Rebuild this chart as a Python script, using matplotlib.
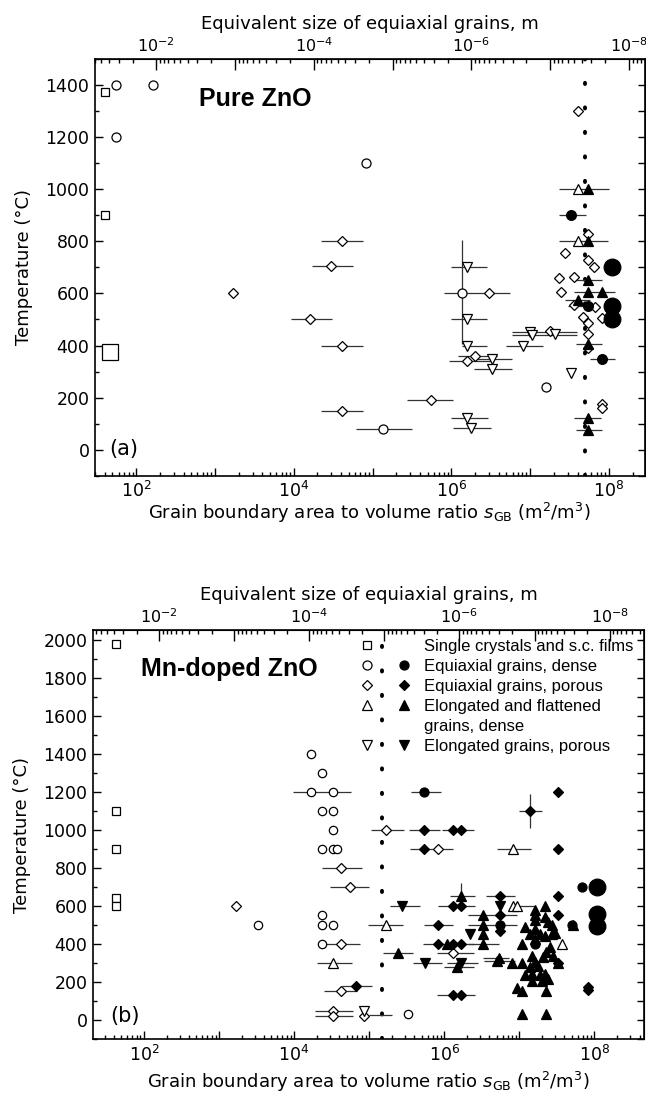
import numpy as np
import matplotlib
matplotlib.use("Agg")
import matplotlib.pyplot as plt
from matplotlib.ticker import FixedLocator, MultipleLocator, FuncFormatter, NullFormatter
from matplotlib.lines import Line2D
from matplotlib.legend_handler import HandlerTuple

plt.rcParams['font.family'] = ['DejaVu Sans']
plt.rcParams['mathtext.fontset'] = 'dejavusans'
plt.rcParams['mathtext.default'] = 'regular'

# ---------------- panel (a): pure ZnO ----------------
a_sq_s = [40, 40]
a_sq_T = [1375, 900]
a_bigsq_s = [47]
a_bigsq_T = [375]
a_circ_s = [56, 56, 164, 8.3e4, 1.35e5, 1.36e6, 1.6e7]
a_circ_T = [1400, 1200, 1400, 1100, 80, 600, 240]
a_dot_s = [3.3e7, 5.4e7, 8.3e7]
a_dot_T = [900, 550, 350]
a_bigdot_s = [1.1e8, 1.1e8, 1.1e8]
a_bigdot_T = [700, 550, 500]
a_dia_s = [1.7e3, 1.6e4, 4.1e4, 3.0e4, 4.1e4, 4.1e4, 5.5e5, 3.0e6, 2.0e6, 1.6e6,
           1.8e7, 2.75e7, 5.4e7, 5.4e7, 6.5e7, 2.3e7, 3.6e7, 2.5e7, 3.6e7, 6.6e7,
           4.7e7, 5.5e7, 8.1e7, 5.4e7, 5.4e7, 8.3e7, 8.3e7, 4.0e7]
a_dia_T = [600, 500, 800, 705, 400, 150, 190, 600, 360, 340,
           455, 755, 830, 730, 700, 660, 665, 605, 555, 548,
           510, 486, 505, 445, 390, 175, 160, 1300]
a_tri_s = [4.0e7, 4.0e7]
a_tri_T = [1000, 800]
a_ftri_s = [5.4e7, 5.4e7, 5.4e7, 5.4e7, 8.1e7, 4.0e7, 5.4e7, 5.4e7, 5.4e7]
a_ftri_T = [1000, 800, 650, 605, 605, 575, 405, 120, 75]
a_inv_s = [1.6e6, 1.6e6, 1.6e6, 3.3e6, 3.3e6, 1.6e6, 1.8e6, 1.0e7, 1.07e7, 2.1e7, 8.1e6, 3.3e7]
a_inv_T = [700, 500, 400, 350, 310, 120, 85, 450, 440, 445, 400, 295]

a_bar_lo = [9.3e3, 2.2e4, 1.7e4, 2.2e4, 2.2e4, 6.2e4, 2.75e5, 8.0e5, 1.0e6, 1.0e6,
            1.35e6, 1.95e6, 1.95e6, 1.2e6, 9.3e5, 1.0e6, 1.05e6, 5.9e6, 5.9e6, 4.9e6,
            2.3e7, 2.3e7, 2.3e7, 3.8e7, 3.6e7, 2.75e7, 3.0e7, 3.8e7, 5.8e7, 3.6e7, 3.8e7]
a_bar_hi = [3.1e4, 7.6e4, 5.6e4, 7.6e4, 7.6e4, 3.2e5, 1.05e6, 5.5e6, 2.8e6, 2.8e6,
            2.8e6, 5.9e6, 5.9e6, 3.8e6, 3.5e6, 2.9e6, 3.2e6, 3.9e7, 3.9e7, 1.45e7,
            1.0e8, 9.8e7, 5.1e7, 8.3e7, 1.2e8, 5.8e7, 7.6e7, 8.3e7, 1.2e8, 8.0e7, 8.3e7]
a_bar_T = [500, 800, 705, 400, 150, 80, 190, 600, 700, 500,
           400, 350, 310, 360, 340, 120, 85, 450, 440, 400,
           1000, 800, 900, 650, 605, 575, 550, 405, 350, 120, 75]
a_vbar_s = [1.36e6]
a_vbar_lo = [405]
a_vbar_hi = [805]
a_limit = 5.0e7

# ---------------- panel (b): Mn-doped ZnO ----------------
b_sq_s = [42, 42, 42, 42, 42]
b_sq_T = [1975, 1100, 900, 640, 600]
b_circ_s = [1.7e4, 2.35e4, 1.7e4, 3.3e4, 2.35e4, 3.3e4, 3.3e4, 2.35e4, 3.3e4, 3.7e4,
            3.3e3, 2.35e4, 2.35e4, 3.3e4, 2.35e4, 3.3e5]
b_circ_T = [1400, 1300, 1200, 1200, 1100, 1100, 1000, 900, 900, 900,
            500, 550, 500, 500, 400, 30]
b_dot_s = [5.4e5, 6.9e7, 5.1e7, 5.6e6, 1.6e7]
b_dot_T = [1200, 700, 500, 500, 400]
b_bigdot_s = [1.1e8, 1.1e8, 1.1e8]
b_bigdot_T = [700, 555, 495]
b_dia_s = [1.7e3, 4.2e4, 5.6e4, 1.7e5, 8.3e5, 4.2e4, 4.2e4, 3.3e4, 3.3e4, 8.5e4, 1.32e6]
b_dia_T = [600, 800, 700, 1000, 900, 400, 150, 45, 20, 20, 350]
b_fdia_s = [6.7e4, 5.4e5, 5.4e5, 1.32e6, 1.7e6, 3.3e7, 3.3e7, 5.6e6, 1.32e6, 1.7e6,
            5.6e6, 3.3e7, 3.3e7, 8.3e5, 5.6e6, 8.3e5, 1.32e6, 1.7e6, 3.3e7, 1.32e6,
            1.7e6, 8.3e7, 8.3e7, 1.4e7]
b_fdia_T = [180, 1000, 900, 1000, 1000, 900, 1200, 650, 600, 600,
            550, 650, 550, 500, 470, 400, 400, 400, 300, 130,
            130, 175, 160, 1100]
b_tri_s = [1.7e5, 3.3e4, 8.3e6, 8.3e6, 9.4e6, 3.7e7]
b_tri_T = [500, 300, 900, 600, 600, 400]
b_ftri_s = [2.4e5, 1.7e6, 1.1e6, 3.3e6, 3.3e6, 3.3e6, 3.3e6, 1.5e6, 5.4e6, 5.1e6,
            8.1e6, 1.1e7, 1.1e7, 1.6e7, 2.2e7, 1.6e7, 1.6e7, 2.2e7, 1.2e7, 1.4e7,
            1.9e7, 2.4e7, 2.75e7, 2.75e7, 3.0e7, 1.6e7, 2.2e7, 1.6e7, 2.3e7, 2.6e7,
            2.8e7, 1.5e7, 1.6e7, 1.8e7, 2.1e7, 1.4e7, 1.2e7, 1.5e7, 1.9e7, 2.2e7,
            1.5e7, 2.0e7, 2.4e7, 9.4e6, 1.1e7, 2.3e7, 1.1e7, 2.3e7, 5.2e7, 3.3e7]
b_ftri_T = [350, 650, 400, 550, 500, 450, 400, 280, 325, 310,
            300, 300, 400, 580, 600, 550, 525, 540, 490, 450,
            450, 515, 500, 450, 460, 480, 440, 425, 355, 385,
            335, 335, 305, 285, 330, 280, 235, 240, 235, 240,
            205, 205, 215, 170, 150, 150, 30, 30, 500, 300]
b_finv_s = [2.75e5, 5.6e5, 1.7e6, 2.2e6, 5.6e6]
b_finv_T = [600, 300, 300, 450, 600]
b_inv_s = [8.5e4]
b_inv_T = [45]

b_bar_lo = [9.7e3, 2.35e4, 2.35e4, 3.0e4, 1.07e5, 9.7e4, 2.0e4, 2.5e4, 4.4e4, 1.9e4,
            1.9e4, 1.0e5, 1.9e5, 3.6e5, 3.4e5, 3.5e5, 9.3e5, 1.0e7, 5.1e6, 3.9e5,
            1.55e5, 5.4e5, 5.2e5, 8.1e5, 1.1e6, 1.0e6, 8.1e5, 1.2e6, 8.3e5, 3.6e6,
            2.1e6, 2.1e6, 2.1e6, 3.3e6, 3.4e6, 8.3e6]
b_bar_hi = [5.8e4, 7.6e4, 8.1e4, 1.0e5, 2.9e5, 2.8e5, 5.9e4, 6.9e4, 1.1e5, 6.1e4,
            6.1e4, 2.0e5, 4.8e5, 9.1e5, 8.9e5, 1.3e6, 2.5e6, 2.0e7, 1.45e7, 9.4e5,
            3.9e5, 1.32e6, 2.5e6, 2.5e6, 2.8e6, 2.5e6, 2.6e6, 2.6e6, 2.6e6, 8.9e6,
            9.4e6, 5.4e6, 9.4e6, 7.3e6, 8.9e6, 1.6e7]
b_bar_T = [1200, 400, 800, 700, 1000, 500, 300, 150, 180, 45,
           20, 25, 600, 1200, 1000, 900, 1000, 1100, 900, 300,
           350, 500, 400, 350, 300, 280, 130, 650, 600, 650,
           550, 400, 500, 325, 310, 600]
b_vbar_s = [1.4e7, 1.7e6]
b_vbar_lo = [1010, 600]
b_vbar_hi = [1190, 720]
b_limit = 1.5e5

legend_labels = ["Single crystals and s.c. films", "Equiaxial grains, dense",
                 "Equiaxial grains, porous", "Elongated and flattened",
                 "grains, dense", "Elongated grains, porous"]


def pts(ax, s, T, marker, filled, ms, z=3):
    ax.plot(s, T, linestyle='none', marker=marker, ms=ms,
            mfc='black' if filled else 'white', mec='black', mew=0.9, zorder=z)


def even_pow(v, pos):
    e = int(round(np.log10(v)))
    return r'$10^{%d}$' % e if e % 2 == 0 else ''


def log_ticks(lo, hi):
    major = [10.0 ** e for e in range(-12, 12) if lo <= 10.0 ** e <= hi]
    minor = [m * 10.0 ** e for e in range(-12, 12) for m in range(2, 10)
             if lo <= m * 10.0 ** e <= hi]
    return major, minor


def setup(ax, K, xlim, ylim, ymajor, xlabelpad):
    ax.set_xscale('log')
    ax.set_xlim(*xlim)
    ax.set_ylim(*ylim)
    for sp in ax.spines.values():
        sp.set_linewidth(1.2)
    major, minor = log_ticks(*xlim)
    ax.xaxis.set_major_locator(FixedLocator(major))
    ax.xaxis.set_minor_locator(FixedLocator(minor))
    ax.xaxis.set_major_formatter(FuncFormatter(even_pow))
    ax.xaxis.set_minor_formatter(NullFormatter())
    ax.yaxis.set_major_locator(MultipleLocator(ymajor))
    ax.yaxis.set_minor_locator(MultipleLocator(100))
    ax.tick_params(which='both', direction='in', labelsize=12.5, width=1.0)
    ax.tick_params(which='major', length=6, pad=4)
    ax.tick_params(which='minor', length=3)

    def fwd(s):
        s = np.asarray(s, dtype=float)
        with np.errstate(divide='ignore'):
            return K / s

    top = ax.secondary_xaxis('top', functions=(fwd, fwd))
    tmaj, tmin = log_ticks(K / xlim[1], K / xlim[0])
    top.xaxis.set_major_locator(FixedLocator(tmaj))
    top.xaxis.set_minor_locator(FixedLocator(tmin))
    top.xaxis.set_major_formatter(FuncFormatter(even_pow))
    top.xaxis.set_minor_formatter(NullFormatter())
    top.tick_params(which='both', direction='in', labelsize=11.5, width=1.0)
    top.tick_params(which='major', length=8, pad=3)
    top.tick_params(which='minor', length=3)
    top.set_xlabel('Equivalent size of equiaxial grains, m', fontsize=13, labelpad=5)

    right = ax.secondary_yaxis('right')
    right.yaxis.set_major_locator(MultipleLocator(100))
    right.yaxis.set_major_formatter(NullFormatter())
    right.tick_params(which='both', direction='in', length=5, width=1.0)

    ax.set_xlabel(r'Grain boundary area to volume ratio $\mathit{s}_{\mathrm{GB}}$ (m$^2$/m$^3$)',
                  fontsize=13, labelpad=xlabelpad)
    ax.set_ylabel('Temperature (°C)', fontsize=13, labelpad=9)


def bars(ax, lo, hi, T, vs=None, vlo=None, vhi=None):
    ax.hlines(T, lo, hi, colors='#333333', lw=0.9, zorder=2)
    if vs is not None:
        ax.vlines(vs, vlo, vhi, colors='#333333', lw=0.9, zorder=2)


def limit_line(ax, x):
    ax.axvline(x, color='black', lw=2.8, linestyle=(0, (0.3, 6.0)),
               dash_capstyle='round', zorder=1.5)


fig = plt.figure(figsize=(6.46, 10.96), dpi=100)

# ---- (a)
ax = fig.add_axes([0.147, 0.566, 0.851, 0.380])
setup(ax, 1.8, (30, 2.85e8), (-100, 1500), 200, 0)
limit_line(ax, a_limit)
bars(ax, a_bar_lo, a_bar_hi, a_bar_T, a_vbar_s, a_vbar_lo, a_vbar_hi)
pts(ax, a_sq_s, a_sq_T, 's', False, 5.5)
pts(ax, a_bigsq_s, a_bigsq_T, 's', False, 11)
pts(ax, a_circ_s, a_circ_T, 'o', False, 6.5)
pts(ax, a_dia_s, a_dia_T, 'D', False, 5.2)
pts(ax, a_inv_s, a_inv_T, 'v', False, 7.5)
pts(ax, a_tri_s, a_tri_T, '^', False, 7.5)
pts(ax, a_ftri_s, a_ftri_T, '^', True, 7.5)
pts(ax, a_dot_s, a_dot_T, 'o', True, 7)
pts(ax, a_bigdot_s, a_bigdot_T, 'o', True, 12)
ax.text(0.19, 0.905, 'Pure ZnO', transform=ax.transAxes, fontsize=18,
        fontweight='bold', va='center', ha='left', family='Liberation Sans')
ax.text(0.026, 0.065, '(a)', transform=ax.transAxes, fontsize=15, va='center', ha='left')

# ---- (b)
bx = fig.add_axes([0.144, 0.052, 0.853, 0.373])
setup(bx, 1.6, (21, 4.6e8), (-100, 2050), 200, 4)
limit_line(bx, b_limit)
bars(bx, b_bar_lo, b_bar_hi, b_bar_T, b_vbar_s, b_vbar_lo, b_vbar_hi)
pts(bx, b_sq_s, b_sq_T, 's', False, 5.5)
pts(bx, b_circ_s, b_circ_T, 'o', False, 6)
pts(bx, b_dia_s, b_dia_T, 'D', False, 5)
pts(bx, b_inv_s, b_inv_T, 'v', False, 7)
pts(bx, b_tri_s, b_tri_T, '^', False, 7)
pts(bx, b_ftri_s, b_ftri_T, '^', True, 7)
pts(bx, b_finv_s, b_finv_T, 'v', True, 7)
pts(bx, b_fdia_s, b_fdia_T, 'D', True, 5)
pts(bx, b_dot_s, b_dot_T, 'o', True, 6.5)
pts(bx, b_bigdot_s, b_bigdot_T, 'o', True, 12)
bx.text(0.087, 0.905, 'Mn-doped ZnO', transform=bx.transAxes, fontsize=18,
        fontweight='bold', va='center', ha='left', family='Liberation Sans')
bx.text(0.032, 0.056, '(b)', transform=bx.transAxes, fontsize=15, va='center', ha='left')


def mk(marker, filled, ms):
    return Line2D([], [], linestyle='none', marker=marker, ms=ms,
                  mfc='black' if filled else 'white', mec='black', mew=0.9)


blank = Line2D([], [], linestyle='none', marker='None')
handles = [(mk('s', False, 5.5), blank),
           (mk('o', False, 6.5), mk('o', True, 6.5)),
           (mk('D', False, 5), mk('D', True, 5)),
           (mk('^', False, 7), mk('^', True, 7)),
           (blank, blank),
           (mk('v', False, 7), mk('v', True, 7))]
bx.legend(handles, legend_labels, handler_map={tuple: HandlerTuple(ndivide=None, pad=0)},
          loc='upper left', bbox_to_anchor=(0.464, 0.978), frameon=False,
          prop={'family': 'Liberation Sans', 'size': 12},
          handlelength=4.4, handletextpad=0.1, labelspacing=0.3,
          borderpad=0, borderaxespad=0)

fig.savefig('out.png', dpi=100)
